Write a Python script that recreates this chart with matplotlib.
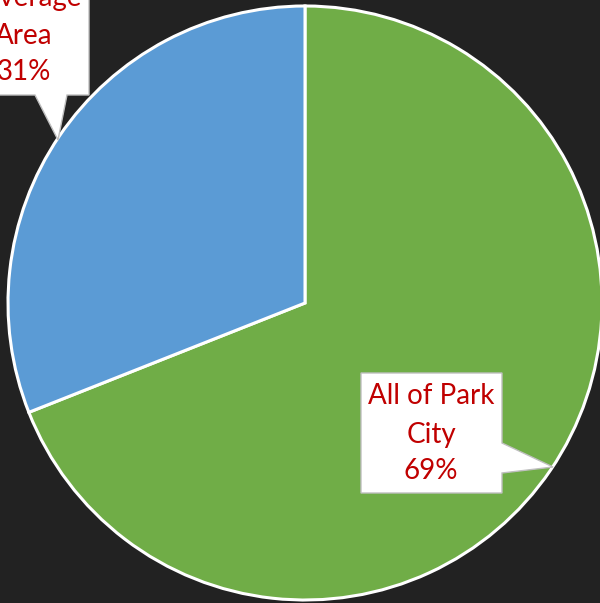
import matplotlib
matplotlib.use("Agg")
import matplotlib.pyplot as plt
from matplotlib.patches import Polygon

labels = ["All of Park\nCity", "Coverage\nArea"]
values = [69, 31]
colors = ["#70AD47", "#5B9BD5"]

W, H = 600, 603
fig = plt.figure(figsize=(6.0, 6.03), dpi=100, facecolor="#222222")
ax = fig.add_axes([0, 0, 1, 1])
ax.set_facecolor("#222222")

ax.pie(values, colors=colors, startangle=90, counterclock=False,
       center=(305, H - 303), radius=297, frame=True,
       wedgeprops=dict(edgecolor="white", linewidth=2.2))
ax.set_xlim(0, W)
ax.set_ylim(0, H)
ax.set_aspect("equal")
ax.axis("off")

def Y(py):
    return H - py

# right callout
right = Polygon([(361, Y(373)), (502, Y(373)), (502, Y(443)), (553, Y(467)),
                 (502, Y(473)), (502, Y(493)), (361, Y(493))],
                closed=True, facecolor="white", edgecolor="#bfbfbf", linewidth=1, zorder=5)
ax.add_patch(right)
# left callout
left = Polygon([(-10, Y(-10)), (89, Y(-10)), (89, Y(95)), (67, Y(95)), (58, Y(140)),
                (35, Y(95)), (-10, Y(95))],
               closed=True, facecolor="white", edgecolor="#bfbfbf", linewidth=1, zorder=5)
ax.add_patch(left)

fam = ["Lato", "DejaVu Sans"]
pcts = [f"{v}%" for v in values]
r_lines = labels[0].split("\n") + [pcts[0]]
for txt, py in zip(r_lines, [396, 435, 471]):
    ax.text(431, Y(py), txt, ha="center", va="center", color="#C00000",
            fontsize=20, family=fam, zorder=6)
l_lines = labels[1].split("\n") + [pcts[1]]
for txt, py in zip(l_lines, [-2, 36, 72]):
    ax.text(24, Y(py), txt, ha="center", va="center", color="#C00000",
            fontsize=20, family=fam, zorder=6)

fig.savefig("out.png", dpi=100, facecolor=fig.get_facecolor())
